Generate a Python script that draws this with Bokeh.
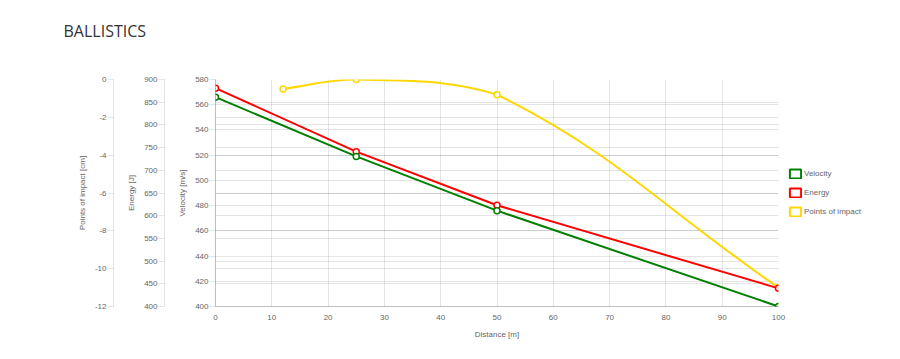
import math
from bokeh.plotting import figure
from bokeh.models import (Range1d, LinearAxis, Grid, FixedTicker, Legend, LegendItem, Title)
from bokeh.embed import file_html
from bokeh.resources import INLINE

# ---------------- data ----------------
distance = [0, 25, 50, 100]
velocity = [566, 519, 476, 400]
energy = [881, 741, 623, 440]
impact_distance = [12, 25, 50, 100]
impact = [-0.5, 0, -0.8, -11]

x_ticks = [0, 10, 20, 30, 40, 50, 60, 70, 80, 90, 100]
velocity_ticks = [400, 420, 440, 460, 480, 500, 520, 540, 560, 580]
energy_ticks = [400, 450, 500, 550, 600, 650, 700, 750, 800, 850, 900]
impact_ticks = [0, -2, -4, -6, -8, -10, -12]
impact_tick_labels = ["0", "-2", "-4", "-6", "-8", "-10", "-12"]

series_names = ["Velocity", "Energy", "Points of impact"]
colors = ["green", "red", "gold"]

# ---------------- layout constants ----------------
FRAME_W, FRAME_H = 563, 227
TICK_FONT = "Liberation Sans"
GRID_COLOR = "rgba(0,0,0,0.1)"

p = figure(frame_width=FRAME_W, frame_height=FRAME_H, output_backend="svg", toolbar_location=None,
           x_range=Range1d(0, 100), y_range=Range1d(400, 580),
           min_border_left=215, min_border_right=114,
           min_border_top=79, min_border_bottom=45)
p.extra_y_ranges = {"energy": Range1d(400, 900), "impact": Range1d(-12, 0)}
p.outline_line_color = None
p.background_fill_color = "white"
p.border_fill_color = "white"

# title: spacer nearest the frame, then the visible title above it
p.add_layout(Title(text=" ", text_font_size="1px", standoff=35), "above")
p.add_layout(Title(text="BALLISTICS", text_font="Open Sans", text_font_size="16px",
                   text_font_style="normal", text_color="#333333", align="left",
                   offset=-152, standoff=0), "above")


def style_axis(ax, label):
    ax.axis_label = label
    ax.axis_label_text_font = TICK_FONT
    ax.axis_label_text_font_size = "8px"
    ax.axis_label_text_font_style = "normal"
    ax.axis_label_text_color = "#666666"
    ax.major_label_text_font = TICK_FONT
    ax.major_label_text_font_size = "8px"
    ax.major_label_text_color = "#666666"
    ax.minor_tick_line_color = None


# x axis
xa = p.xaxis[0]
xa.ticker = FixedTicker(ticks=x_ticks)
style_axis(xa, "Distance [m]")
xa.major_tick_in = 0
xa.major_tick_out = 0
xa.major_label_standoff = 8
xa.axis_label_standoff = 7
xa.axis_line_color = "rgba(0,0,0,0.25)"

# velocity axis (inner)
va = p.yaxis[0]
va.ticker = FixedTicker(ticks=velocity_ticks)
style_axis(va, "Velocity [m/s]")
va.major_tick_in = 0
va.major_tick_out = 6
va.major_tick_line_color = GRID_COLOR
va.major_label_standoff = 1
va.axis_label_standoff = 5
va.axis_line_color = "rgba(0,0,0,0.25)"

p.add_layout(Title(text=" ", text_font_size="1px", standoff=8), "left")

# energy axis
ea = LinearAxis(y_range_name="energy", ticker=FixedTicker(ticks=energy_ticks))
style_axis(ea, "Energy [J]")
ea.major_tick_in = 0
ea.major_tick_out = 6
ea.major_tick_line_color = GRID_COLOR
ea.major_label_standoff = 1
ea.axis_label_standoff = 5
ea.axis_line_color = GRID_COLOR
p.add_layout(ea, "left")

p.add_layout(Title(text=" ", text_font_size="1px", standoff=8), "left")

# points of impact axis (outer)
ia = LinearAxis(y_range_name="impact", ticker=FixedTicker(ticks=impact_ticks))
style_axis(ia, "Points of impact [cm]")
ia.major_label_overrides = dict(zip(impact_ticks, impact_tick_labels))
ia.major_tick_in = 0
ia.major_tick_out = 6
ia.major_tick_line_color = GRID_COLOR
ia.major_label_standoff = 1
ia.axis_label_standoff = 5
ia.axis_line_color = GRID_COLOR
p.add_layout(ia, "left")

# grids
p.xgrid.ticker = FixedTicker(ticks=x_ticks)
p.xgrid.grid_line_color = GRID_COLOR
p.ygrid.ticker = FixedTicker(ticks=velocity_ticks)
p.ygrid.grid_line_color = GRID_COLOR
p.add_layout(Grid(dimension=1, ticker=FixedTicker(ticks=energy_ticks), y_range_name="energy",
                  grid_line_color=GRID_COLOR))
p.add_layout(Grid(dimension=1, ticker=FixedTicker(ticks=impact_ticks), y_range_name="impact",
                  grid_line_color=GRID_COLOR))

# ---------------- points of impact: Chart.js-like cubic spline (tension 0.4) ----------------
kx = FRAME_W / 100.0
ky = FRAME_H / 12.0


def spline_controls(xs, ys, tension=0.4):
    px = [x * kx for x in xs]
    py = [y * ky for y in ys]
    n = len(px)
    prev_c, next_c = [], []
    for i in range(n):
        a = max(i - 1, 0)
        b = min(i + 1, n - 1)
        d01 = math.hypot(px[i] - px[a], py[i] - py[a])
        d12 = math.hypot(px[b] - px[i], py[b] - py[i])
        tot = d01 + d12
        s01 = d01 / tot if tot else 0
        s12 = d12 / tot if tot else 0
        fa, fb = tension * s01, tension * s12
        dx, dy = px[b] - px[a], py[b] - py[a]
        prev_c.append((px[i] - fa * dx, py[i] - fa * dy))
        next_c.append((px[i] + fb * dx, py[i] + fb * dy))

    def to_data(pt):
        x = min(max(pt[0] / kx, 0), 100)
        y = min(max(pt[1] / ky, -12), 0)
        return x, y
    return [to_data(c) for c in prev_c], [to_data(c) for c in next_c]


prev_c, next_c = spline_controls(impact_distance, impact)
seg = range(len(impact_distance) - 1)
p.bezier(x0=[impact_distance[i] for i in seg], y0=[impact[i] for i in seg],
         x1=[impact_distance[i + 1] for i in seg], y1=[impact[i + 1] for i in seg],
         cx0=[next_c[i][0] for i in seg], cy0=[next_c[i][1] for i in seg],
         cx1=[prev_c[i + 1][0] for i in seg], cy1=[prev_c[i + 1][1] for i in seg],
         line_color=colors[2], line_width=2, y_range_name="impact")
p.scatter(impact_distance, impact, y_range_name="impact", size=6, marker="circle",
          fill_color="white", line_color=colors[2], line_width=1.5)

# energy
p.line(distance, energy, y_range_name="energy", line_color=colors[1], line_width=2)
p.scatter(distance, energy, y_range_name="energy", size=6, marker="circle",
          fill_color="white", line_color=colors[1], line_width=1.5)

# velocity
p.line(distance, velocity, line_color=colors[0], line_width=2)
p.scatter(distance, velocity, size=6, marker="circle",
          fill_color="white", line_color=colors[0], line_width=1.5)

# legend (box style like Chart.js)
nan = float("nan")
items = []
for name, c in zip(series_names, colors):
    r = p.quad(left=[nan], right=[nan], top=[nan], bottom=[nan], fill_alpha=0,
               line_color=c, line_width=2)
    items.append(LegendItem(label=name, renderers=[r]))
legend = Legend(items=items, location="center_left", orientation="vertical",
                glyph_width=14, glyph_height=11, label_height=16, spacing=3,
                padding=10, margin=0, label_standoff=2,
                label_text_font=TICK_FONT, label_text_font_size="8px",
                label_text_color="#666666",
                border_line_alpha=0, background_fill_alpha=0)
p.add_layout(legend, "right")

open("out.html", "w").write(file_html(p, INLINE))
